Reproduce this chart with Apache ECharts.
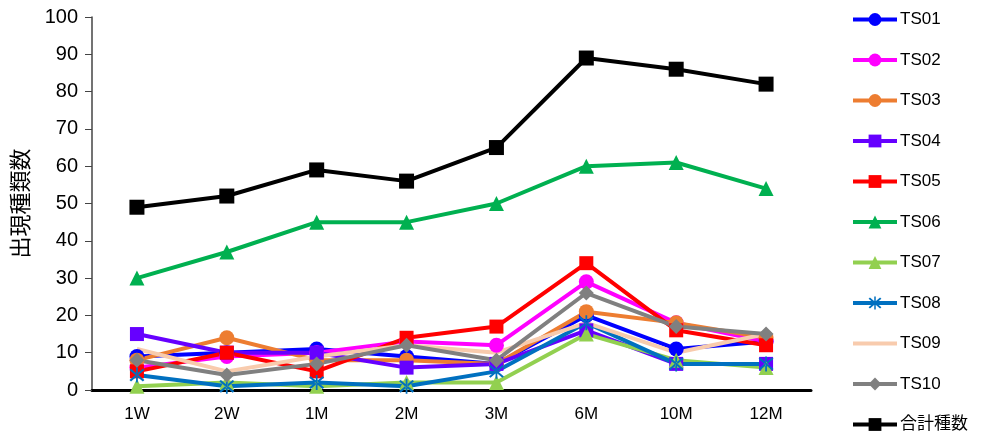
<!DOCTYPE html>
<html>
<head>
<meta charset="utf-8">
<script src="https://cdn.jsdelivr.net/npm/echarts@6/dist/echarts.min.js"></script>
<style>
  html, body { margin: 0; padding: 0; background: #fff; }
  #chart { width: 983px; height: 440px; }
</style>
</head>
<body>
<div id="chart"></div>
<script>
// カテゴリ
const categories = ["1W", "2W", "1M", "2M", "3M", "6M", "10M", "12M"];
const yTicks = [0, 10, 20, 30, 40, 50, 60, 70, 80, 90, 100];

// 各地点の出現種類数
const ts01 = [9, 10, 11, 9, 7, 20, 11, 13];
const ts02 = [6, 9, 10, 13, 12, 29, 18, 13];
const ts03 = [8, 14, 8, 8, 7, 21, 18, 14];
const ts04 = [15, 10, 10, 6, 7, 16, 7, 7];
const ts05 = [5, 10, 5, 14, 17, 34, 16, 12];
const ts06 = [30, 37, 45, 45, 50, 60, 61, 54];
const ts07 = [1, 2, 1, 2, 2, 15, 8, 6];
const ts08 = [4, 1, 2, 1, 5, 18, 7, 7];
const ts09 = [11, 5, 9, 12, 10, 18, 10, 15];
const ts10 = [8, 4, 7, 12, 8, 26, 17, 15];
const total = [49, 52, 59, 56, 65, 89, 86, 82];

const FONT = "'Liberation Sans', 'Noto Sans CJK JP', sans-serif";
// アスタリスク形マーカー
const STAR = "path://M9,0 L11,0 L11,20 L9,20 Z M1.5,3.3 L3.3,1.5 L18.5,16.7 L16.7,18.5 Z M18.5,3.3 L16.7,1.5 L1.5,16.7 L3.3,18.5 Z";

function mk(name, data, color, symbol, size) {
  return {
    name: name,
    type: "line",
    data: data,
    symbol: symbol,
    symbolSize: size,
    showSymbol: symbol !== "none",
    lineStyle: { color: color, width: 4 },
    itemStyle: { color: color },
    emphasis: { disabled: true },
    animation: false
  };
}

const legendNames = ["TS01", "TS02", "TS03", "TS04", "TS05", "TS06", "TS07", "TS08", "TS09", "TS10", "合計種数"];

let myChart = echarts.init(document.getElementById("chart"));
let option = {
  textStyle: { fontFamily: FONT },
  grid: { left: 92, right: 172, top: 17, bottom: 50 },
  legend: {
    orient: "vertical",
    left: 846,
    top: 6,
    itemWidth: 44,
    itemHeight: 16,
    itemGap: 23.5,
    lineStyle: { width: 4 },
    textStyle: { fontSize: 17, color: "#000", fontFamily: FONT, padding: [0, 0, 0, -2] },
    data: legendNames.map(function (n) {
      // TS09 はマーカーなし
      if (n === "TS09") return { name: n, itemStyle: { color: "rgba(0,0,0,0)", borderWidth: 0 } };
      return { name: n };
    })
  },
  xAxis: {
    type: "category",
    data: categories,
    boundaryGap: true,
    axisLine: { lineStyle: { color: "#000", width: 3 } },
    axisTick: { show: false },
    axisLabel: { fontSize: 17, color: "#000", margin: 16 }
  },
  yAxis: {
    type: "value",
    min: yTicks[0],
    max: yTicks[yTicks.length - 1],
    interval: 10,
    name: "出現種類数",
    nameLocation: "middle",
    nameGap: 61,
    nameRotate: 90,
    nameTextStyle: { fontSize: 22, color: "#000", fontFamily: "'Noto Sans CJK JP', sans-serif" },
    axisLine: { show: true, lineStyle: { color: "#444", width: 1.5 } },
    axisTick: { show: true, inside: false, length: 7, lineStyle: { color: "#444" } },
    axisLabel: { fontSize: 20, color: "#000", margin: 14 },
    splitLine: { show: false }
  },
  series: [
    mk("TS01", ts01, "#0000FF", "circle", 15),
    mk("TS02", ts02, "#FF00FF", "circle", 15),
    mk("TS03", ts03, "#ED7D31", "circle", 15),
    mk("TS04", ts04, "#6600FF", "rect", 14),
    mk("TS05", ts05, "#FF0000", "rect", 14),
    mk("TS06", ts06, "#00B050", "triangle", 15),
    mk("TS07", ts07, "#92D050", "triangle", 15),
    mk("TS08", ts08, "#0070C0", STAR, 15),
    mk("TS09", ts09, "#F8CBAD", "none", 0),
    mk("TS10", ts10, "#808080", "diamond", 15),
    mk("合計種数", total, "#000000", "rect", 15)
  ]
};
myChart.setOption(option);
</script>
</body>
</html>
